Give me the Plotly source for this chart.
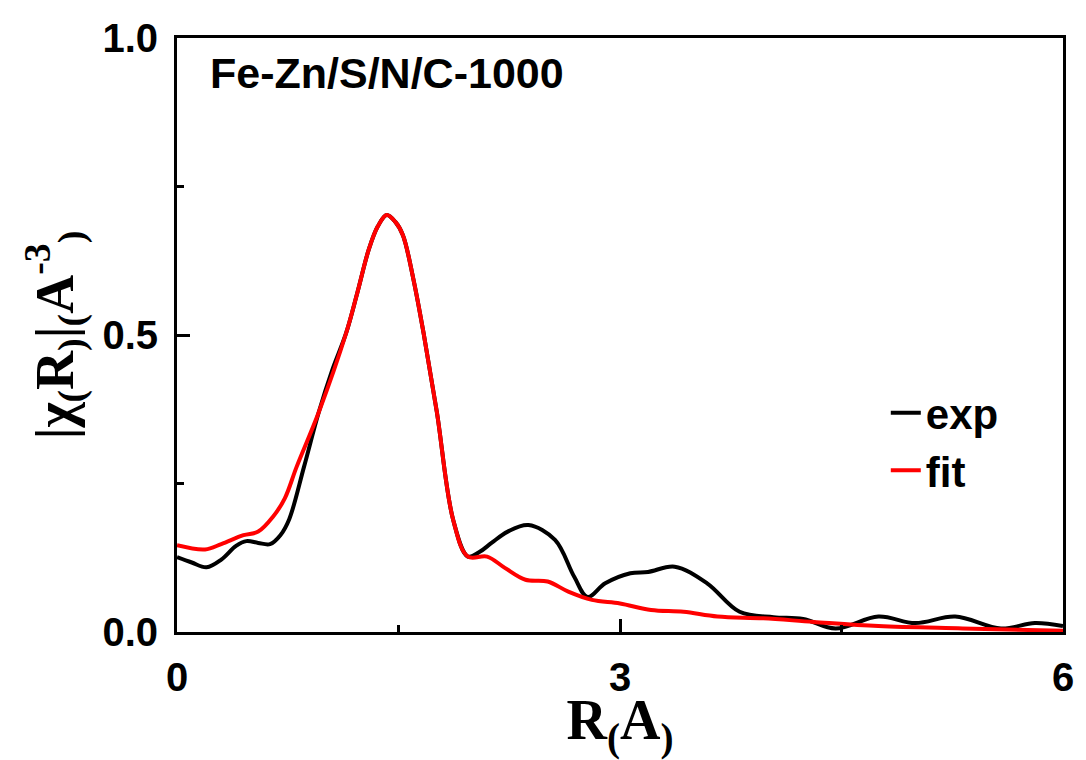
import plotly.graph_objects as go

exp_r = [0.0, 0.1, 0.2, 0.3, 0.4, 0.47, 0.55, 0.63, 0.7, 0.76, 0.86, 0.96, 1.05, 1.145,
         1.22, 1.3, 1.36, 1.42, 1.48, 1.53, 1.6, 1.67, 1.76, 1.87, 1.97, 2.05, 2.13,
         2.24, 2.38, 2.56, 2.69, 2.78, 2.9, 3.07, 3.19, 3.37, 3.59, 3.81, 4.04, 4.24,
         4.46, 4.75, 5.0, 5.27, 5.58, 5.81, 6.0]
exp_chi = [0.126, 0.117, 0.109, 0.122, 0.145, 0.153, 0.150, 0.148, 0.163, 0.190, 0.278,
           0.370, 0.440, 0.503, 0.570, 0.645, 0.683, 0.702, 0.690, 0.668, 0.595, 0.503,
           0.370, 0.189, 0.127, 0.135, 0.150, 0.169, 0.180, 0.155, 0.093, 0.059, 0.082,
           0.099, 0.101, 0.110, 0.082, 0.034, 0.025, 0.022, 0.006, 0.026, 0.015, 0.026,
           0.006, 0.015, 0.010]

fit_r = [0.0, 0.19, 0.3, 0.45, 0.55, 0.65, 0.73, 0.81, 0.96, 1.145, 1.22, 1.3, 1.36,
         1.42, 1.48, 1.53, 1.6, 1.67, 1.76, 1.87, 1.97, 2.1, 2.22, 2.36, 2.51, 2.65,
         2.81, 3.0, 3.21, 3.43, 3.66, 3.97, 4.31, 4.75, 5.32, 6.0]
fit_chi = [0.146, 0.139, 0.148, 0.163, 0.169, 0.194, 0.225, 0.278, 0.370, 0.503, 0.570,
           0.645, 0.683, 0.702, 0.690, 0.668, 0.595, 0.503, 0.370, 0.189, 0.127, 0.127,
           0.108, 0.088, 0.085, 0.068, 0.054, 0.048, 0.037, 0.034, 0.026, 0.023, 0.017,
           0.010, 0.006, 0.002]

x_ticks = [0, 3, 6]
x_tick_labels = ["0", "3", "6"]
y_ticks = [0.0, 0.5, 1.0]
y_tick_labels = ["0.0", "0.5", "1.0"]
sample_label = "Fe-Zn/S/N/C-1000"

fig = go.Figure()
fig.add_trace(go.Scatter(x=exp_r, y=exp_chi, mode="lines", name="<b>exp</b>",
                         line=dict(color="black", width=4, shape="spline", smoothing=1.0)))
fig.add_trace(go.Scatter(x=fit_r, y=fit_chi, mode="lines", name="<b>fit</b>",
                         line=dict(color="#ff0000", width=4, shape="spline", smoothing=1.0)))

axis_common = dict(showline=True, linecolor="black", linewidth=3, mirror=True,
                   ticks="inside", ticklen=13, tickwidth=3, tickcolor="black",
                   showgrid=False, zeroline=False,
                   tickfont=dict(family="Liberation Sans", size=40, color="black"),
                   minor=dict(ticks="inside", ticklen=7, tickwidth=3, tickcolor="black",
                              showgrid=False))

fig.update_xaxes(range=[0, 6], tickvals=x_ticks,
                 ticktext=["<b>" + t + "</b>" for t in x_tick_labels],
                 minor_dtick=1.5, ticklabelstandoff=8,
                 title=dict(text="<b>R<sub>(</sub>A<sub>)</sub></b>",
                            font=dict(family="Liberation Serif", size=56, color="black"),
                            standoff=10),
                 **axis_common)
fig.update_yaxes(range=[0, 1.0], tickvals=y_ticks,
                 ticktext=["<b>" + t + "</b>" for t in y_tick_labels],
                 minor_dtick=0.25, ticklabelstandoff=8,
                 title=dict(text="<b>|χ<sub>(</sub>R<sub>)</sub>|<sub>(</sub>A<sup>-3</sup><sub>)</sub></b>",
                            font=dict(family="Liberation Serif", size=54, color="black"),
                            standoff=12),
                 **axis_common)

fig.add_annotation(x=0.035, y=0.985, xref="paper", yref="paper", xanchor="left", yanchor="top",
                   text="<b>" + sample_label + "</b>", showarrow=False,
                   font=dict(family="Liberation Sans", size=43, color="black"))

fig.update_layout(
    width=1086, height=760,
    margin=dict(l=177, r=14, t=38, b=128),
    plot_bgcolor="white", paper_bgcolor="white",
    showlegend=True,
    legend=dict(x=0.80, y=0.32, xanchor="left", yanchor="middle",
                bgcolor="rgba(0,0,0,0)", borderwidth=0,
                font=dict(family="Liberation Sans", size=42, color="black"),
                itemwidth=30, tracegroupgap=0),
)

fig.write_html("out.html")
